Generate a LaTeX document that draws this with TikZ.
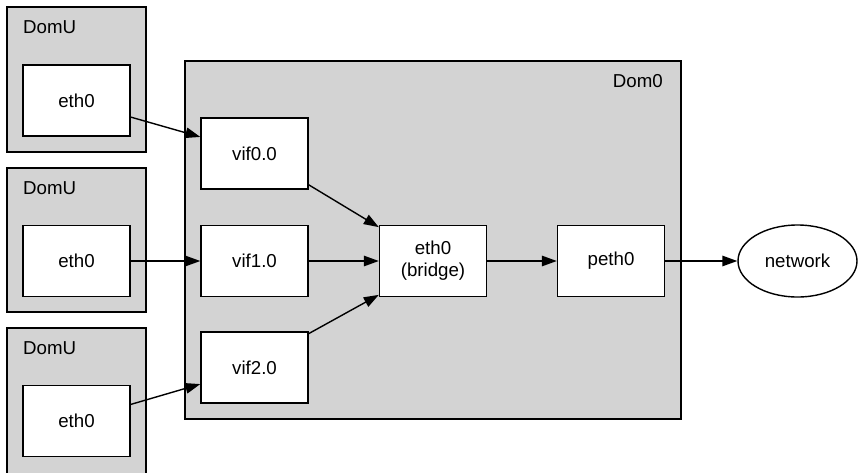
\documentclass[tikz,border=0pt]{standalone}
\usepackage{fontspec}
\setmainfont{Liberation Sans}
\usetikzlibrary{arrows.meta,shapes.geometric}
\definecolor{clusterfill}{HTML}{D3D3D3}
\tikzset{
  cluster/.style={draw=black, fill=clusterfill, line width=1.4pt, rectangle, inner sep=0pt},
  box/.style={draw=black, fill=white, line width=1.4pt, rectangle, inner sep=0pt,
    minimum width=107pt, minimum height=71pt, align=center,
    font=\fontsize{18.7}{22}\selectfont},
  cloud/.style={draw=black, fill=white, line width=1.4pt, ellipse, inner sep=0pt,
    minimum width=119pt, minimum height=72pt, font=\fontsize{18.7}{22}\selectfont},
  lbl/.style={inner sep=0pt, font=\fontsize{18.7}{22}\selectfont},
  link/.style={line width=1.4pt, -{Triangle[length=15pt,width=10.5pt]}}
}
\begin{document}
\begin{tikzpicture}[x=1pt,y=-1pt]
\useasboundingbox (0,0) rectangle (859,472);
\clip (0,0) rectangle (859,472);

% guest domains
\node[cluster, minimum width=139pt, minimum height=145pt] (d1) at (76.5,79.5) {};
\node[cluster, minimum width=139pt, minimum height=144pt] (d2) at (76.5,240) {};
\node[cluster, minimum width=139pt, minimum height=146pt] (d3) at (76.5,401) {};
\node[lbl, anchor=base west] (d1l) at (23,33) {DomU};
\node[lbl, anchor=base west] (d2l) at (23,194) {DomU};
\node[lbl, anchor=base west] (d3l) at (23,354) {DomU};

% driver domain
\node[cluster, minimum width=496pt, minimum height=358pt] (dom0) at (433,240) {};
\node[lbl, anchor=base east] (dom0l) at (663,87) {Dom0};

% interfaces
\node[box] (e1) at (76.5,100.5) {eth0};
\node[box] (e2) at (76.5,261) {eth0};
\node[box] (e3) at (76.5,421) {eth0};
\node[box] (v0) at (254.5,153.5) {vif0.0};
\node[box] (v1) at (254.5,261) {vif1.0};
\node[box] (v2) at (254.5,367.5) {vif2.0};
\node[box] (br) at (433,261) {eth0\\(bridge)};
\node[box] (pe) at (611,261) {peth0};
\node[cloud] (net) at (797.5,261) {network};

% links
\draw[link] (e1.-17) -- (v0.163);
\draw[link] (e2) -- (v1);
\draw[link] (e3.17) -- (v2.-163);
\draw[link] (v0.-30) -- (br.148);
\draw[link] (v1) -- (br);
\draw[link] (v2.32) -- (br.-148);
\draw[link] (br) -- (pe);
\draw[link] (pe) -- (net);
\end{tikzpicture}
\end{document}
